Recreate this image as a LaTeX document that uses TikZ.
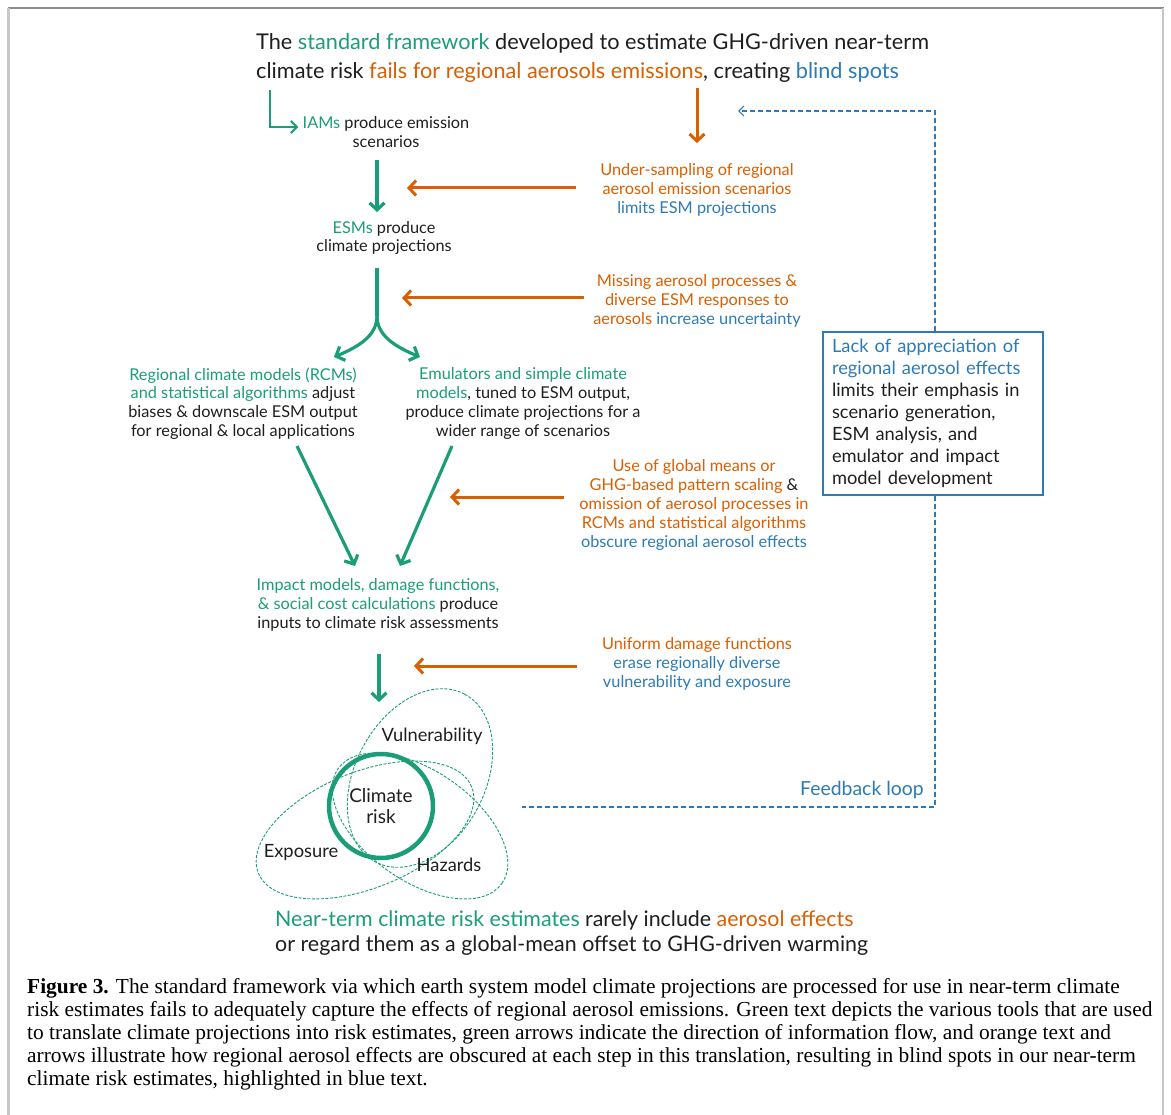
\documentclass[tikz,border=0pt]{standalone}
\usepackage{fontspec}
\setmainfont{Lato}
\newfontfamily\capfont{Liberation Serif}
\usetikzlibrary{arrows.meta}
\definecolor{G}{HTML}{1B9E77}
\definecolor{O}{HTML}{D95F02}
\definecolor{B}{HTML}{2C7BB6}
\definecolor{T}{HTML}{1E1E1E}
\begin{document}
\begin{tikzpicture}[x=1pt,y=-1pt,
  txt/.style={align=center, inner sep=0pt, text=T, font=\fontsize{16.3}{18.8}\selectfont},
  otxt/.style={txt, text=O},
  garrow/.style={draw=G, line width=3.2pt, -{Straight Barb[length=7pt,width=15pt]}},
  gthin/.style={draw=G, line width=2.2pt, -{Straight Barb[length=6pt,width=12pt]}},
  oarrow/.style={draw=O, line width=3pt, -{Straight Barb[length=7pt,width=15pt]}},
  bdash/.style={draw=B, line width=1.2pt, dash pattern=on 5pt off 3pt},
  vdash/.style={draw=G, line width=0.9pt, dash pattern=on 3pt off 1.5pt},
  vlabel/.style={txt, font=\fontsize{18.3}{21}\selectfont},
  capline/.style={anchor=base west, inner sep=0pt, text=black, font=\capfont\fontsize{21.4}{23}\selectfont}
]
\useasboundingbox (0,0) rectangle (1171,1115);
% frame
\draw[draw=black!45, line width=1.5pt] (8,8) -- (1163.5,8);
\draw[draw=black!22, line width=2.5pt] (8.5,8) -- (8.5,1115);
\draw[draw=black!22, line width=1.5pt] (1163,8) -- (1163,1115);

% title
\node[txt, anchor=west, align=left, font=\fontsize{21.7}{29}\selectfont] (title) at (256,58)
  {The \textcolor{G}{standard framework} developed to estimate GHG-driven near-term\\
   climate risk \textcolor{O}{fails for regional aerosols emissions}, creating \textcolor{B}{blind spots}};

% green chain
\node[txt] (iam) at (386,132) {\textcolor{G}{IAMs} produce emission\\scenarios};
\node[txt] (esm) at (384,238) {\textcolor{G}{ESMs} produce\\climate projections};
\node[txt] (rcm) at (243,403.5) {\textcolor{G}{Regional climate models (RCMs)}\\
  \textcolor{G}{and statistical algorithms} adjust\\biases \& downscale ESM output\\for regional \& local applications};
\node[txt] (emu) at (523,403.5) {\textcolor{G}{Emulators and simple climate}\\
  \textcolor{G}{models}, tuned to ESM output,\\produce climate projections for a\\wider range of scenarios};
\node[txt] (imp) at (378,605) {\textcolor{G}{Impact models, damage functions,}\\
  \textcolor{G}{\& social cost calculations} produce\\inputs to climate risk assessments};

% orange texts
\node[otxt] (o1) at (697,190) {Under-sampling of regional\\aerosol emission scenarios\\\textcolor{B}{limits ESM projections}};
\node[otxt] (o2) at (697,301) {Missing aerosol processes \&\\diverse ESM responses to\\aerosols \textcolor{B}{increase uncertainty}};
\node[otxt] (o3) at (694,505) {Use of global means or\\GHG-based pattern scaling \textcolor{T}{\&}\\omission of aerosol processes in\\RCMs and statistical algorithms\\\textcolor{B}{obscure regional aerosol effects}};
\node[otxt] (o4) at (697,664) {Uniform damage functions\\\textcolor{B}{erase regionally diverse}\\\textcolor{B}{vulnerability and exposure}};

% blue box
\node[draw=B, line width=1.2pt, minimum width=220pt, minimum height=163pt, inner xsep=9pt,
  text width=202pt, align=left, text=T, font=\fontsize{18.3}{22}\selectfont] (box) at (933,413.5)
  {\textcolor{B}{Lack of appreciation of}\\\textcolor{B}{regional aerosol effects}\\limits their emphasis in\\scenario generation,\\ESM analysis, and\\emulator and impact\\model development};
\node[txt, text=B, font=\fontsize{19.4}{22}\selectfont] (fbl) at (862,790) {Feedback loop};

% coordinates
\coordinate (gstart) at (270,90);
\coordinate (otop) at (697,88);
\coordinate (oend) at (697,143);
\coordinate (fbtop) at (935,111);
\coordinate (fbhead) at (738,111);
\coordinate (fbbot) at (935,807);
\coordinate (fbend) at (522,807);
\coordinate (fork) at (377,316);
\coordinate (forkL) at (334,357);
\coordinate (forkR) at (420,357);
\coordinate (rcmtail) at (297,446);
\coordinate (emutail) at (452,446);
\coordinate (impL) at (355,566);
\coordinate (impR) at (400,566);

% green arrows
\draw[gthin] (gstart) |- ([xshift=-4pt,yshift=5pt]iam.west);
\draw[garrow] (377,160) -- (377,212);
\draw[draw=G, line width=3.2pt] (377,268) -- (fork);
\draw[garrow] (fork) .. controls (377,336) and (358,347) .. (forkL);
\draw[garrow] (fork) .. controls (377,336) and (396,347) .. (forkR);
\draw[garrow] (rcmtail) -- (impL);
\draw[garrow] (emutail) -- (impR);
\draw[garrow] (379,654) -- (379,702);

% orange arrows
\draw[oarrow] (otop) -- (oend);
\draw[oarrow] (576,188) -- (407,188);
\draw[oarrow] (584,298) -- (402,298);
\draw[oarrow] (564,497) -- (450,497);
\draw[oarrow] (577,666) -- (414,666);

% feedback loop
\draw[bdash, -{Straight Barb[length=5pt,width=10pt]}] (box.north -| fbtop) -- (fbtop) -- (fbhead);
\draw[bdash] (box.south -| fbtop) -- (fbbot) -- (fbend);

% venn
\draw[vdash, rotate around={62:(420,778)}] (420,778) ellipse [x radius=95pt, y radius=65pt];
\draw[vdash, rotate around={22:(365,830)}] (365,830) ellipse [x radius=115pt, y radius=58pt];
\draw[vdash, rotate around={-35:(420,826)}] (420,826) ellipse [x radius=100pt, y radius=55pt];
\node[circle, draw=G, line width=4.5pt, minimum size=104pt, align=center, inner sep=0pt, text=T,
  font=\fontsize{19}{21}\selectfont] (risk) at (381,806) {Climate\\risk};
\node[vlabel] (vul) at (432,736) {Vulnerability};
\node[vlabel] (exp) at (301,853) {Exposure};
\node[vlabel] (haz) at (449,865) {Hazards};

% bottom statement
\node[txt, anchor=west, align=left, font=\fontsize{21.4}{25}\selectfont] (bottom) at (275,933)
  {\textcolor{G}{Near-term climate risk estimates} rarely include \textcolor{O}{aerosol effects}\\
   or regard them as a global-mean offset to GHG-driven warming};

% caption
\node[capline] (c1) at (27,993) {\textbf{Figure 3.} The standard framework via which earth system model climate projections are processed for use in near-term climate};
\node[capline] (c2) at (27,1016) {risk estimates fails to adequately capture the effects of regional aerosol emissions. Green text depicts the various tools that are used};
\node[capline] (c3) at (27,1039) {to translate climate projections into risk estimates, green arrows indicate the direction of information flow, and orange text and};
\node[capline] (c4) at (27,1062) {arrows illustrate how regional aerosol effects are obscured at each step in this translation, resulting in blind spots in our near-term};
\node[capline] (c5) at (27,1085) {climate risk estimates, highlighted in blue text.};
\end{tikzpicture}
\end{document}
